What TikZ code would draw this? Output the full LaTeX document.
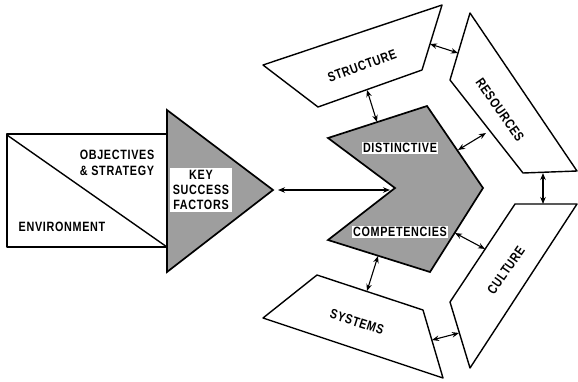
\documentclass[tikz,border=0pt]{standalone}
\usepackage{fontspec}
\newfontfamily\lblfont{Liberation Sans}[FakeStretch=0.8,LetterSpace=5]
\usetikzlibrary{arrows.meta}
\begin{document}
\begin{tikzpicture}[x=1pt,y=-1pt,
  blockshape/.style={draw=black,line width=1.4pt,line join=round,fill=white},
  shaded/.style={draw=black,line width=1.7pt,line join=miter,fill=black!38},
  lbl/.style={font=\lblfont\bfseries\fontsize{13.5}{15}\selectfont,inner sep=1.5pt,align=center},
  wlbl/.style={lbl,fill=white},
  link/.style={line width=1.1pt,{Stealth[length=7pt,width=5.5pt]}-{Stealth[length=7pt,width=5.5pt]}}]
\useasboundingbox (0,0) rectangle (578,381);
% left block
\draw[blockshape] (7,134) rectangle (167,247);
\draw[line width=1.4pt] (7,135) -- (167,247);
\node[lbl] (obj) at (117,163) {OBJECTIVES\\[0.5pt]\& STRATEGY};
\node[lbl] (env) at (62,227) {ENVIRONMENT};
% key success factors triangle
\draw[shaded] (167,110) -- (273,190) -- (167,272) -- cycle;
\node[wlbl,inner sep=2.5pt] (ksf) at (201,190) {KEY\\SUCCESS\\FACTORS};
% distinctive competencies chevron
\draw[shaded] (328,138) -- (427,106) -- (483,188) -- (430,272) -- (328,240) -- (395,188) -- cycle;
\node[wlbl] (dist) at (400,148) {DISTINCTIVE};
\node[wlbl] (comp) at (400,232) {COMPETENCIES};
% surrounding blocks
\draw[blockshape] (263,65) -- (442,5) -- (422,70) -- (318,107) -- cycle;
\node[lbl,rotate=20] (str) at (362,66) {STRUCTURE};
\draw[blockshape] (470,13) -- (577,171) -- (523,173) -- (450,80) -- cycle;
\node[lbl,rotate=-55] (res) at (500,110) {RESOURCES};
\draw[blockshape] (515,204) -- (577,204) -- (470,368) -- (450,302) -- cycle;
\node[lbl,rotate=55] (cul) at (506,270) {CULTURE};
\draw[blockshape] (263,318) -- (317,275) -- (423,310) -- (443,378) -- cycle;
\node[lbl,rotate=-18] (sys) at (357,322) {SYSTEMS};
% connector end points
\coordinate (ksfR) at (278,190);
\coordinate (dcL) at (390,190);
\coordinate (strB) at (367,90);
\coordinate (dcT) at (377,122);
\coordinate (strR) at (430,44);
\coordinate (resL) at (458,53);
\coordinate (dcR) at (458,150);
\coordinate (resB) at (486,133);
\coordinate (resD) at (543,173);
\coordinate (culT) at (543,204);
\coordinate (cpR) at (455,233);
\coordinate (culL) at (485,249);
\coordinate (cpB) at (378,256);
\coordinate (sysT) at (367,291);
\coordinate (sysR) at (432,340);
\coordinate (culB) at (459,333);
% connectors
\draw[link] (ksfR) -- (dcL);
\draw[link] (strB) -- (dcT);
\draw[link] (strR) -- (resL);
\draw[link] (dcR) -- (resB);
\draw[link] (resD) -- (culT);
\draw[link] (cpR) -- (culL);
\draw[link] (cpB) -- (sysT);
\draw[link] (sysR) -- (culB);
\end{tikzpicture}
\end{document}
